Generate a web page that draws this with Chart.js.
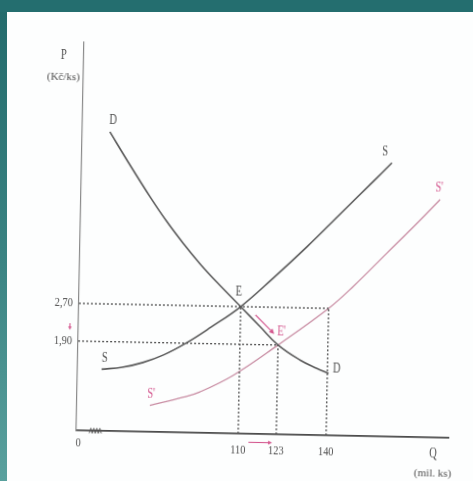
<!DOCTYPE html>
<html>
<head>
<meta charset="utf-8">
<script src="https://cdn.jsdelivr.net/npm/chart.js@4"></script>
<style>
html, body { margin: 0; width: 473px; height: 481px; overflow: hidden; }
body { position: relative; background: linear-gradient(180deg, #226a6b 0%, #3b8483 55%, #5aa19e 100%); }
#topband { position: absolute; left: 0; top: 0; width: 473px; height: 12px; background: #246e6f; }
#panel { position: absolute; left: 7px; top: 12px; right: 0; bottom: 0; background: #fdfefe; }
#chart { position: absolute; left: 0; top: 0; transform-origin: 260px 300px; transform: rotate(1.15deg); }
</style>
</head>
<body>
<div id="topband"></div>
<div id="panel"></div>
<canvas id="chart" width="473" height="481"></canvas>
<script>
// values (Q in mil. ks, P in Kč/ks)
const demandQ = [64.2, 70.7, 78.3, 84.2, 90.0, 95.9, 101.7, 110, 116.8, 123, 130.6, 136.4, 140.4];
const demandP = [6.36, 5.72, 5.00, 4.48, 4.02, 3.59, 3.21, 2.70, 2.28, 1.90, 1.59, 1.42, 1.32];

const supplyQ = [63.0, 70.0, 77.0, 84.0, 91.6, 100.0, 110, 120.9, 132.2, 143.3, 154.4, 160.6];
const supplyP = [1.31, 1.36, 1.47, 1.64, 1.90, 2.25, 2.70, 3.32, 4.00, 4.71, 5.42, 5.82];

const supply2Q = [79.7, 91.1, 96.7, 108.0, 123, 140, 148.3, 159.5, 168.4, 177.3];
const supply2P = [0.56, 0.75, 0.87, 1.24, 1.90, 2.70, 3.18, 3.90, 4.47, 5.06];

// dotted guides: E, E' and the old price on S'
const guideQ = [110, 123, 140];
const guideP = [2.70, 1.90, 2.70];

const qTicks = [110, 123, 140];
const pTicks = [2.70, 1.90];
const qRange = [54.8, 181.7];
const pRange = [0, 8.25];

function pts(xs, ys) {
    return xs.map(function(v, i){ return {x: v, y: ys[i]}; });
}

let segments = [];

// horizontal guides from the P axis to the furthest point at that price
let prices = [...new Set(guideP)];
prices.forEach(function(p){
    let far = Math.max(...guideQ.filter(function(q, i){ return guideP[i] === p; }));
    segments.push([{x: qRange[0], y: p}, {x: far, y: p}]);
});
// vertical guides down to the Q axis
guideQ.forEach(function(q, i){
    segments.push([{x: q, y: pRange[0]}, {x: q, y: guideP[i]}]);
});

let datasets = segments.map(function(seg){
    return {
        data: seg,
        showLine: true,
        borderColor: '#505050',
        borderWidth: 1.3,
        borderDash: [2, 2],
        pointRadius: 0
    };
});

datasets.push({ label: 'D', data: pts(demandQ, demandP), showLine: true, tension: 0.4,
    borderColor: '#5a5a5a', borderWidth: 1.6, pointRadius: 0 });
datasets.push({ label: 'S', data: pts(supplyQ, supplyP), showLine: true, tension: 0.4,
    borderColor: '#5a5a5a', borderWidth: 1.6, pointRadius: 0 });
datasets.push({ label: "S'", data: pts(supply2Q, supply2P), showLine: true, tension: 0.4,
    borderColor: '#c98ea4', borderWidth: 1.3, pointRadius: 0 });

const ink = '#505050';
const pink = '#d4588f';

const annotate = {
    id: 'annotate',
    afterDatasetsDraw(chart) {
        const ctx = chart.ctx;
        const xs = chart.scales.x, ys = chart.scales.y;
        const X = function(v){ return xs.getPixelForValue(v); };
        const Y = function(v){ return ys.getPixelForValue(v); };

        function txt(s, x, y, size, color, align, squeeze) {
            ctx.save();
            ctx.font = size + 'px "Liberation Serif", serif';
            ctx.fillStyle = color;
            ctx.textBaseline = 'middle';
            ctx.textAlign = align || 'center';
            ctx.translate(x, y);
            ctx.scale(squeeze || 1, 1);
            ctx.fillText(s, 0, 0);
            ctx.restore();
        }
        function arrow(x1, y1, x2, y2, head) {
            let a = Math.atan2(y2 - y1, x2 - x1);
            let h = head || 5;
            ctx.save();
            ctx.strokeStyle = pink;
            ctx.fillStyle = pink;
            ctx.lineWidth = 1.1;
            ctx.beginPath();
            ctx.moveTo(x1, y1);
            ctx.lineTo(x2 - 0.6 * h * Math.cos(a), y2 - 0.6 * h * Math.sin(a));
            ctx.stroke();
            ctx.beginPath();
            ctx.moveTo(x2, y2);
            ctx.lineTo(x2 - h * Math.cos(a) + 0.5 * h * Math.sin(a), y2 - h * Math.sin(a) - 0.5 * h * Math.cos(a));
            ctx.lineTo(x2 - h * Math.cos(a) - 0.5 * h * Math.sin(a), y2 - h * Math.sin(a) + 0.5 * h * Math.cos(a));
            ctx.closePath();
            ctx.fill();
            ctx.restore();
        }

        // tick labels
        pTicks.forEach(function(p){
            txt(p.toFixed(2).replace('.', ','), xs.left - 6, Y(p), 13, ink, 'right', 0.8);
        });
        qTicks.forEach(function(q){
            txt(String(q), X(q), ys.bottom + 17, 13, ink, 'center', 0.8);
        });
        txt('0', xs.left + 2, ys.bottom + 13, 13, ink, 'center', 0.8);

        // axis titles
        txt('P', xs.left - 20, ys.top + 13, 14, ink, 'center', 0.75);
        txt('(Kč/ks)', xs.left - 20, ys.top + 35, 11, ink, 'center', 1);
        txt('Q', xs.right - 15, ys.bottom + 16, 14, ink, 'center', 0.75);
        txt('(mil. ks)', xs.right - 15, ys.bottom + 36, 11, ink, 'center', 1);

        // curve labels
        const dL = demandQ.length - 1, sL = supplyQ.length - 1, s2L = supply2Q.length - 1;
        txt('D', X(demandQ[0]) + 3, Y(demandP[0]) - 12, 14, ink, 'center', 0.75);
        txt('D', X(demandQ[dL]) + 8, Y(demandP[dL]) - 5, 14, ink, 'center', 0.75);
        txt('S', X(supplyQ[sL]) - 7, Y(supplyP[sL]) - 11, 14, ink, 'center', 0.75);
        txt('S', X(supplyQ[0]) + 3, Y(supplyP[0]) - 11, 14, ink, 'center', 0.75);
        txt("S'", X(supply2Q[s2L]) - 1, Y(supply2P[s2L]) - 12, 14, pink, 'center', 0.75);
        txt("S'", X(supply2Q[0]) + 1, Y(supply2P[0]) - 11, 14, pink, 'center', 0.75);
        txt('E', X(guideQ[0]) - 2, Y(guideP[0]) - 15, 14, ink, 'center', 0.75);
        txt("E'", X(guideQ[1]) - 1, Y(guideP[1]) - 13, 14, pink, 'left', 0.75);

        // shift arrows
        arrow(X(guideQ[0]) + 15, Y(guideP[0]) + 8, X(guideQ[1]) - 4, Y(guideP[1]) - 11, 5);
        arrow(X(guideQ[0]) + 10.5, ys.bottom + 8.5, X(guideQ[1]) - 4, ys.bottom + 8.5, 4);
        arrow(xs.left - 8.5, Y(pTicks[0]) + 20, xs.left - 8.5, Y(pTicks[1]) - 11, 3.5);

        // axis break mark
        ctx.save();
        ctx.strokeStyle = '#555';
        ctx.lineWidth = 1;
        ctx.beginPath();
        for (let i = 0; i <= 8; i++) {
            let px = xs.left + 13 + i * 1.5;
            let py = ys.bottom + (i % 2 ? -2.5 : 2.5);
            if (i === 0) ctx.moveTo(px, py); else ctx.lineTo(px, py);
        }
        ctx.stroke();
        ctx.restore();
    }
};

new Chart(document.getElementById('chart').getContext('2d'), {
    type: 'scatter',
    data: { datasets: datasets },
    options: {
        responsive: false,
        animation: false,
        events: [],
        layout: { padding: { left: 79, right: 22, top: 46, bottom: 47 } },
        plugins: { legend: { display: false }, tooltip: { enabled: false } },
        scales: {
            x: {
                type: 'linear', min: qRange[0], max: qRange[1],
                grid: { display: false },
                border: { display: true, color: '#4a4a4a', width: 1.8 },
                ticks: { display: false },
                afterFit(scale) { scale.height = 0; }
            },
            y: {
                type: 'linear', min: pRange[0], max: pRange[1],
                grid: { display: false },
                border: { display: true, color: '#8a8a8a', width: 1.2 },
                ticks: { display: false },
                afterFit(scale) { scale.width = 0; }
            }
        }
    },
    plugins: [annotate]
});
</script>
</body>
</html>
